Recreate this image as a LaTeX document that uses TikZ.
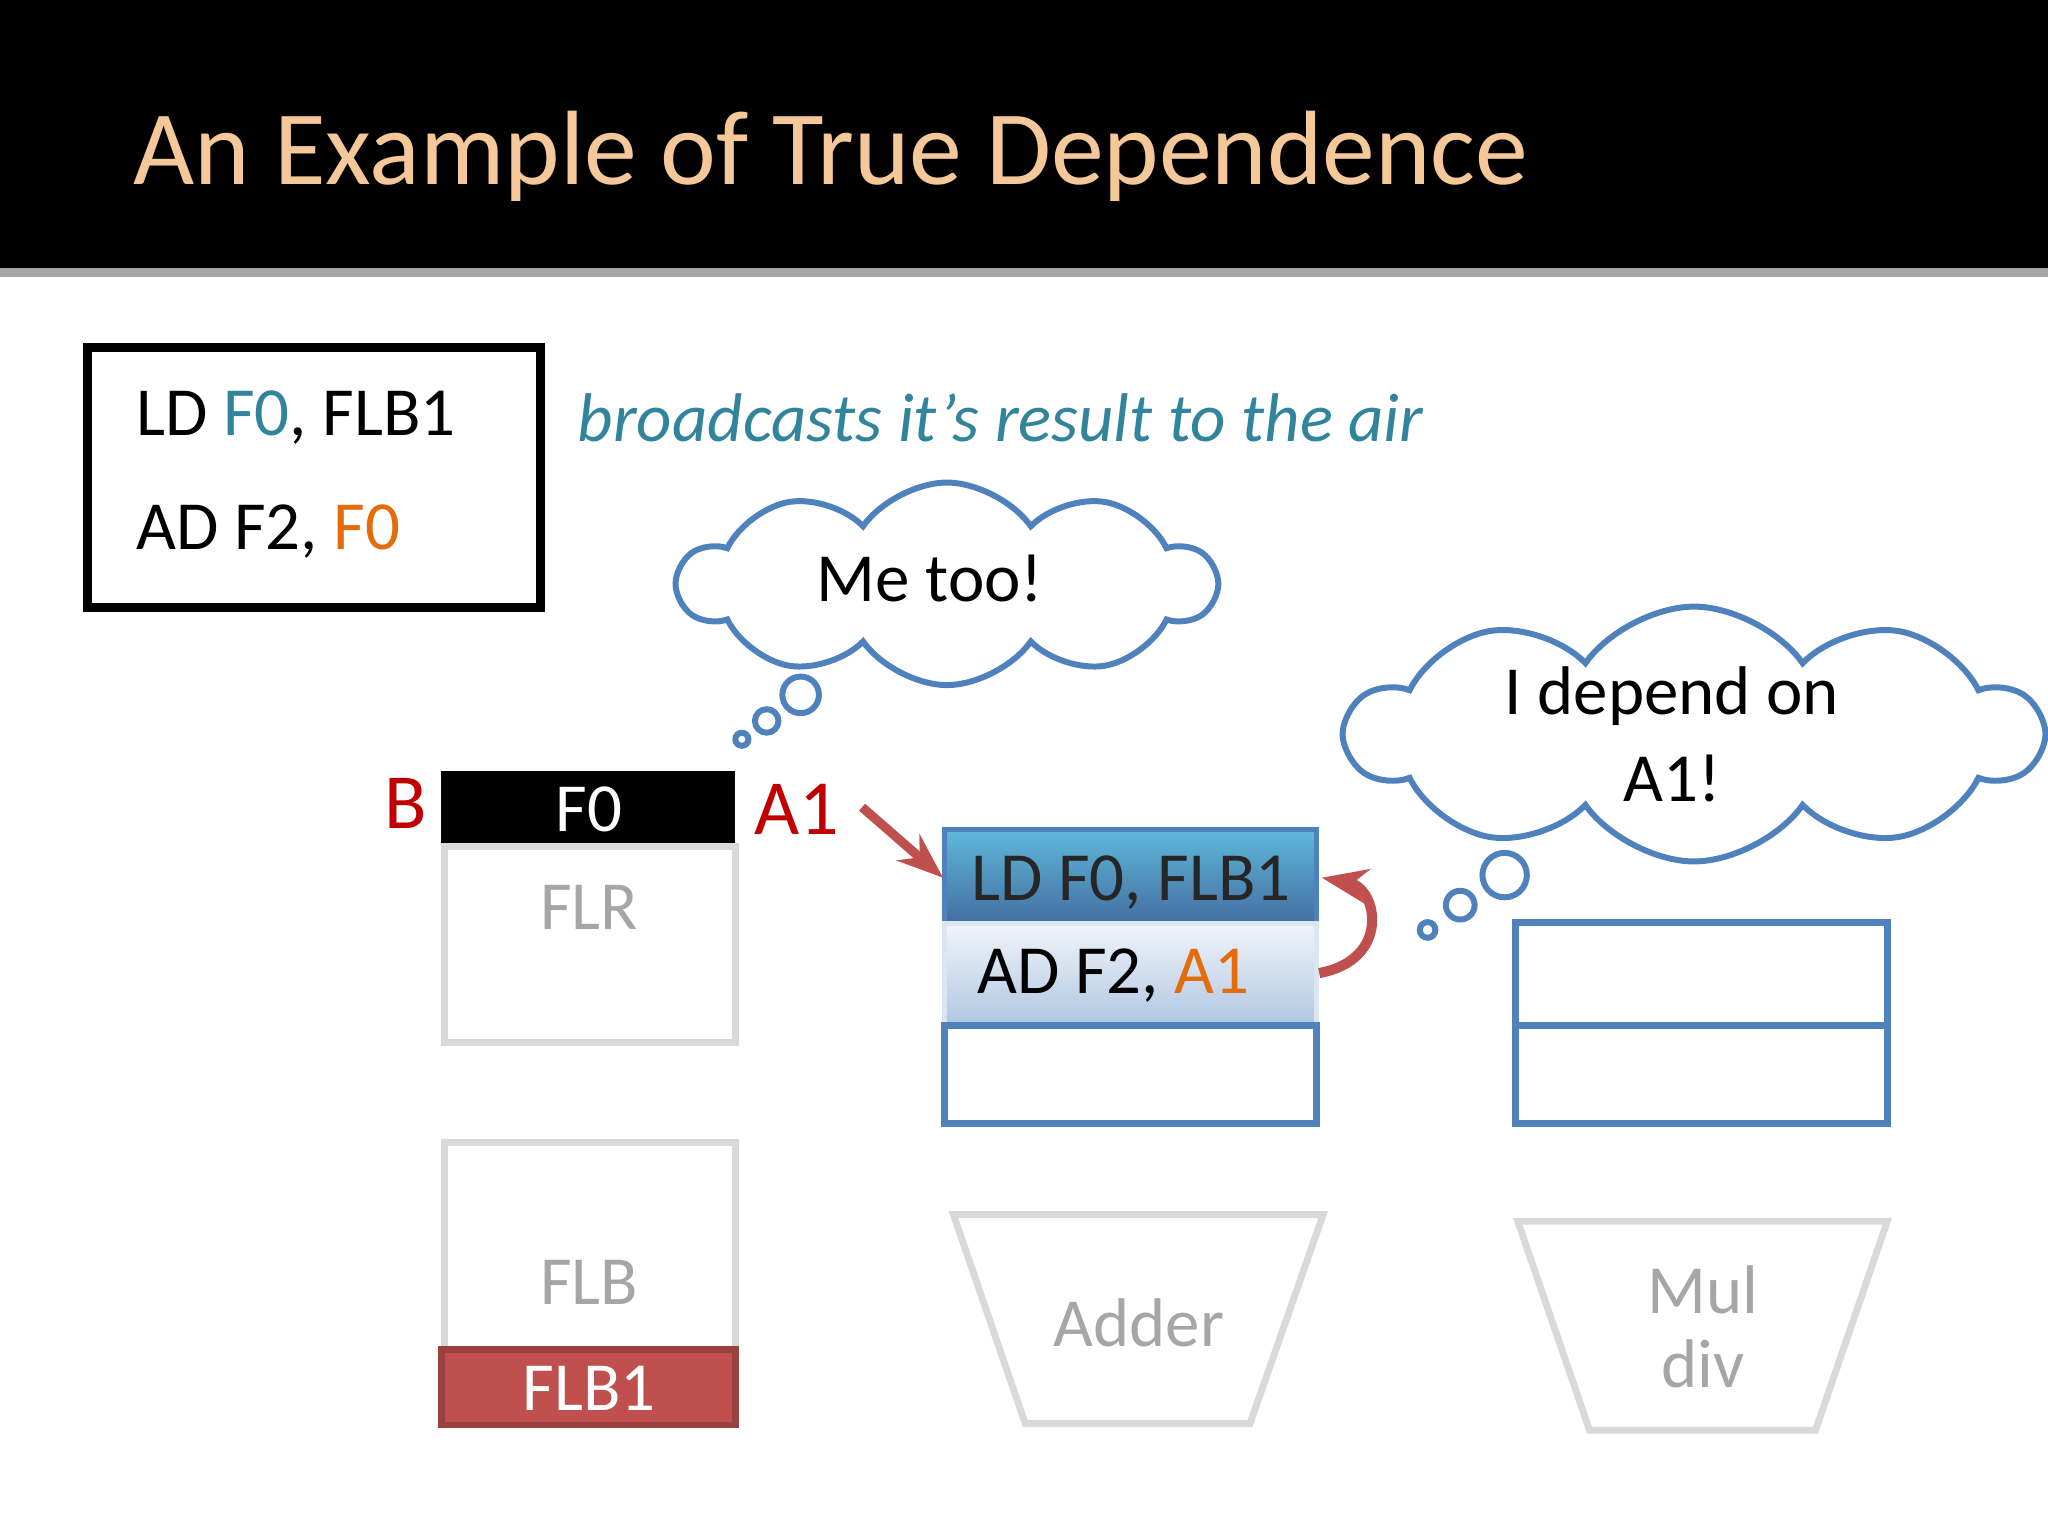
\documentclass[tikz,border=0pt]{standalone}
\usepackage{fontspec}
\setmainfont{Carlito}
\usetikzlibrary{shapes.symbols,shapes.geometric,arrows.meta}
\definecolor{ttl}{HTML}{F5C89A}
\definecolor{teal}{HTML}{31849B}
\definecolor{blu}{HTML}{4F81BD}
\definecolor{org}{HTML}{E46C0A}
\definecolor{rd}{HTML}{C00000}
\definecolor{gr}{HTML}{A6A6A6}
\definecolor{lgr}{HTML}{D9D9D9}
\definecolor{red2}{HTML}{C0504D}
\begin{document}
\begin{tikzpicture}[x=0.01cm,y=-0.01cm,
  txt/.style={font=\fontsize{15}{18}\selectfont},
  gbox/.style={draw=lgr,line width=1.5pt},
  bbox/.style={draw=blu,line width=1.5pt},
  cl/.style={cloud,cloud puffs=10,cloud puff arc=110,draw=blu,line width=1.3pt,fill=white,aspect=2.6,inner sep=0pt},
  bub/.style={circle,draw=blu,line width=1.3pt,fill=white,inner sep=0pt},
  trap/.style={draw=lgr,line width=1.5pt}]
\useasboundingbox (0,0) rectangle (1568,1176);
\fill[black] (0,0) rectangle (1568,205);
\fill[gray!70] (0,205) rectangle (1568,212);
\node[anchor=west,text=ttl,font=\fontsize{23}{28}\selectfont] (title) at (90,120) {An Example of True Dependence};
% code box
\draw[line width=2pt] (67,266) rectangle (414,465);
\node[txt,anchor=west] (l1) at (92,320) {LD \textcolor{teal}{F0}, FLB1};
\node[txt,anchor=west] (l2) at (92,407) {AD F2, \textcolor{org}{F0}};
\node[anchor=west,text=teal,font=\fontsize{15}{18}\selectfont\itshape] (bc) at (430,320) {broadcasts it’s result to the air};
% clouds
\node[cl,minimum width=4.1cm,minimum height=1.55cm] (c1) at (725,447) {};
\node[txt] (t1) at (712,443) {Me too!};
\node[bub,minimum size=0.28cm] (b11) at (613,532) {};
\node[bub,minimum size=0.18cm] (b12) at (587,552) {};
\node[bub,minimum size=0.1cm] (b13) at (568,566) {};
\node[cl,minimum width=5.3cm,minimum height=1.95cm] (c2) at (1297,562) {};
\node[txt,align=center] (t2) at (1280,562) {I depend on\\[1pt] A1!};
\node[bub,minimum size=0.34cm] (b21) at (1152,670) {};
\node[bub,minimum size=0.22cm] (b22) at (1118,693) {};
\node[bub,minimum size=0.12cm] (b23) at (1093,712) {};
% register file
\node[text=rd,font=\fontsize{17}{20}\selectfont] (B) at (311,615) {B};
\fill[black] (338,590) rectangle (563,648);
\node[txt,text=white] (f0) at (451,620) {F0};
\draw[gbox] (340,648) rectangle (563,798);
\node[txt,text=gr] (flr) at (451,695) {FLR};
\node[text=rd,font=\fontsize{17}{20}\selectfont] (A1) at (610,620) {A1};
% reservation station adder
\shade[top color=blu!70!cyan!80!white,bottom color=blu!85!black] (723,635) rectangle (1008,707);
\draw[blu,line width=1pt] (723,635) rectangle (1008,707);
\node[txt,text=black!85] (r1) at (866,676) {LD F0, FLB1};
\shade[top color=blu!8!white,bottom color=blu!45!white] (723,707) rectangle (1008,785);
\draw[white!80!blu,line width=1pt] (723,707) rectangle (1008,785);
\node[txt,anchor=west] (r2) at (736,747) {AD F2, \textcolor{org}{A1}};
\draw[bbox] (723,785) rectangle (1008,860);
\coordinate (a1s) at (660,618);
\coordinate (a1e) at (722,672);
\draw[-{Stealth[length=10pt]},red2,line width=2pt] (a1s) -- (a1e);
\coordinate (cs) at (1010,745);
\coordinate (ce) at (1012,672);
\draw[-{Stealth[length=10pt]},red2,line width=2.2pt] (cs) .. controls (1065,735) and (1055,680) .. (ce);
% mul station
\draw[bbox] (1160,706) rectangle (1445,860);
\draw[bbox] (1160,785) -- (1445,785);
% FLB
\draw[gbox] (340,875) rectangle (563,1033);
\node[txt,text=gr] (flb) at (451,982) {FLB};
\draw[fill=red2,draw=red2!80!black,line width=1.5pt] (338,1033) rectangle (563,1091);
\node[txt,text=white] (flb1) at (451,1063) {FLB1};
% units
\draw[trap] (730,930) -- (1013,930) -- (957,1090) -- (785,1090) -- cycle;
\node[txt,text=gr] (add) at (872,1013) {Adder};
\draw[trap] (1162,935) -- (1445,935) -- (1390,1095) -- (1217,1095) -- cycle;
\node[txt,text=gr,align=center] (mul) at (1304,1016) {Mul\\[-2pt]div};
\end{tikzpicture}
\end{document}
